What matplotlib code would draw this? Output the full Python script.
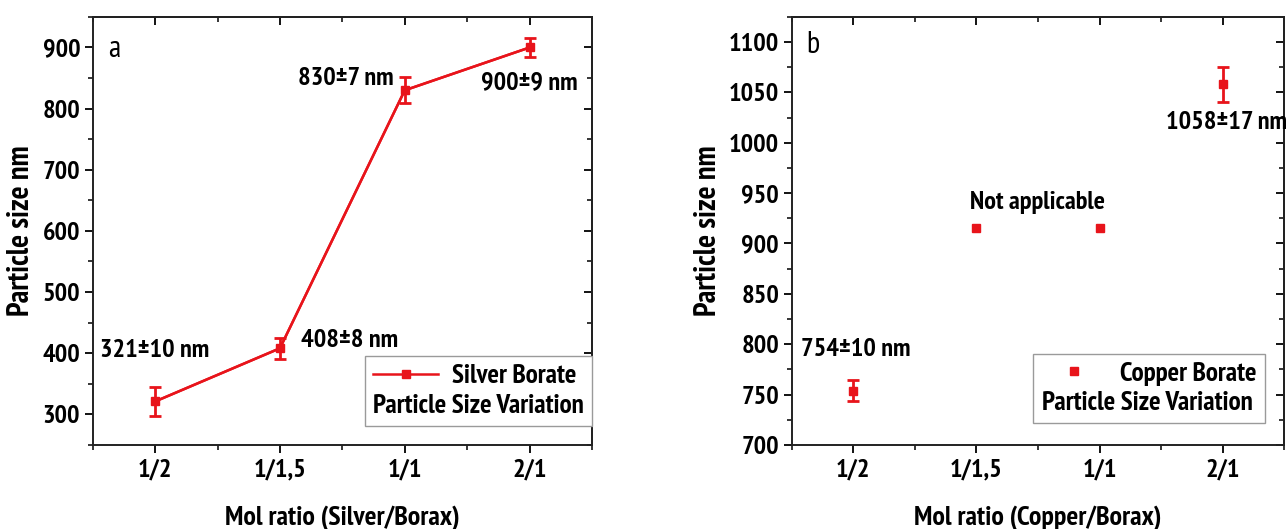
import numpy as np
import matplotlib.pyplot as plt
from matplotlib import font_manager
from matplotlib.ticker import MultipleLocator, FixedLocator

# pick a narrow sans face that has a real bold, similar to Arial Narrow Bold
candidates = ['Liberation Sans Narrow', 'Arial Narrow', 'PT Sans Narrow',
              'Roboto Condensed', 'Archivo Narrow', 'Asap Condensed',
              'Barlow Semi Condensed', 'Barlow Condensed']
bold_fams = set(f.name for f in font_manager.fontManager.ttflist
                if str(f.weight) in ('bold', 'Bold', '700'))
narrow = [n for n in candidates if n in bold_fams]
plt.rcParams['font.family'] = narrow[:1] + ['Liberation Sans', 'DejaVu Sans']
plt.rcParams['font.weight'] = 'bold'
plt.rcParams['axes.labelweight'] = 'bold'

# data
ratios = ['1/2', '1/1,5', '1/1', '2/1']
silver_size = [321, 408, 830, 900]
silver_err = [23, 17, 21, 15]
silver_notes = ['321±10 nm', '408±8 nm', '830±7 nm', '900±9 nm']
copper_size = [754, 915, 915, 1058]
copper_err = [10, 0, 0, 17]
copper_measured = [0, 3]
copper_notes = ['754±10 nm', 'Not applicable', '1058±17 nm']

red = '#e8141b'
x = np.arange(len(ratios))

fig = plt.figure(figsize=(12.87, 5.29), dpi=100)
ax1 = fig.add_axes([0.072, 0.159, 0.388, 0.809])
ax2 = fig.add_axes([0.615, 0.159, 0.383, 0.809])


def style_axes(ax, major, minor, ylim):
    ax.set_xlim(-0.5, 3.5)
    ax.set_ylim(*ylim)
    ax.set_xticks(x)
    ax.set_xticklabels(ratios)
    ax.xaxis.set_minor_locator(FixedLocator(np.arange(-0.5, 3.6, 1.0)))
    ax.yaxis.set_major_locator(MultipleLocator(major))
    ax.yaxis.set_minor_locator(MultipleLocator(minor))
    for s in ax.spines.values():
        s.set_linewidth(1.4)
        s.set_color('#222222')
    ax.tick_params(which='major', direction='out', length=6, width=1.3,
                   labelsize=19)
    ax.tick_params(axis='y', pad=3)
    ax.tick_params(axis='x', pad=4)
    ax.tick_params(which='minor', direction='out', length=3.5, width=1.1)
    # inward ticks on the top and right spines
    top = ax.secondary_xaxis('top')
    top.set_xticks(x)
    top.xaxis.set_minor_locator(FixedLocator(np.arange(-0.5, 3.6, 1.0)))
    top.tick_params(which='major', direction='in', length=6, width=1.3, labeltop=False)
    top.tick_params(which='minor', direction='in', length=3.5, width=1.1)
    right = ax.secondary_yaxis('right')
    right.yaxis.set_major_locator(MultipleLocator(major))
    right.yaxis.set_minor_locator(MultipleLocator(minor))
    right.tick_params(which='major', direction='in', length=6, width=1.3, labelright=False)
    right.tick_params(which='minor', direction='in', length=3.5, width=1.1)
    for sec in (top, right):
        for s in sec.spines.values():
            s.set_linewidth(1.4)
            s.set_color('#222222')
    ax.set_ylabel('Particle size nm', fontsize=22, labelpad=5)


def make_legend(ax, handle, label, anchor):
    leg = ax.legend(handles=[handle], labels=[label], title='Particle Size Variation',
                    alignment='left', loc='lower right', bbox_to_anchor=anchor,
                    borderaxespad=0, fancybox=False, framealpha=1,
                    edgecolor='#9a9a9a', handlelength=2.4, handletextpad=0.5,
                    prop={'size': 19.5, 'weight': 'bold'},
                    title_fontproperties={'size': 19.5, 'weight': 'bold'},
                    borderpad=0.3, labelspacing=0.2)
    leg.get_frame().set_linewidth(1.0)
    leg._legend_box._children.reverse()
    return leg


# panel a - silver borate
style_axes(ax1, 100, 50, (250, 950))
ax1.errorbar(x, silver_size, yerr=silver_err, color=red, ecolor=red,
             elinewidth=2, capsize=4, capthick=2, lw=1.8)
line_a, = ax1.plot(x, silver_size, color=red, lw=1.8, marker='s', ms=6,
                   mec=red, mfc=red)
note_pos_a = [(0.0, 404), (1.56, 420), (1.53, 850), (3.0, 842)]
for (px, py), txt in zip(note_pos_a, silver_notes):
    ax1.text(px, py, txt, ha='center', va='center', fontsize=19)
ax1.text(-0.33, 897, 'a', ha='center', va='center', fontsize=22, fontweight='normal')
ax1.set_xlabel('Mol ratio (Silver/Borax)', fontsize=20, labelpad=17)
make_legend(ax1, line_a, 'Silver Borate', (1.0, 0.045))

# panel b - copper borate
style_axes(ax2, 50, 25, (700, 1125))
ax2.errorbar(x[copper_measured], np.array(copper_size)[copper_measured],
             yerr=np.array(copper_err)[copper_measured], fmt='none',
             ecolor=red, elinewidth=2, capsize=4, capthick=2)
pts_b, = ax2.plot(x, copper_size, ls='none', marker='s', ms=6, mec=red, mfc=red)
note_pos_b = [(0.02, 795), (1.5, 941), (3.03, 1020)]
for (px, py), txt in zip(note_pos_b, copper_notes):
    ax2.text(px, py, txt, ha='center', va='center', fontsize=19, clip_on=False)
ax2.text(-0.33, 1097, 'b', ha='center', va='center', fontsize=22, fontweight='normal')
ax2.set_xlabel('Mol ratio (Copper/Borax)', fontsize=20, labelpad=17)
make_legend(ax2, pts_b, 'Copper Borate', (0.96, 0.05))

fig.savefig('out.png', dpi=100)
